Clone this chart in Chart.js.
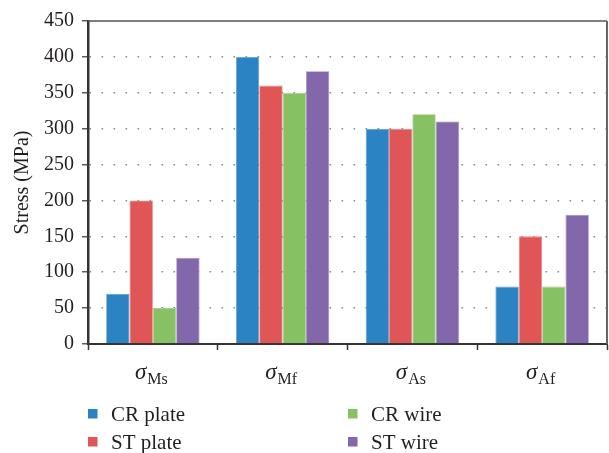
<!DOCTYPE html>
<html>
<head>
<meta charset="utf-8">
<script src="https://cdn.jsdelivr.net/npm/chart.js@4/dist/chart.umd.min.js"></script>
<style>
  html, body { margin: 0; padding: 0; background: #ffffff; }
  #wrap { position: relative; width: 609px; height: 453px; }
</style>
</head>
<body>
<div id="wrap"><canvas id="chart" width="609" height="453"></canvas></div>
<script>
// Transformation stresses by specimen type
const categories = ['Ms', 'Mf', 'As', 'Af'];
const seriesNames = ['CR plate', 'ST plate', 'CR wire', 'ST wire'];
const crPlate = [70, 400, 300, 80];
const stPlate = [200, 360, 300, 150];
const crWire = [50, 350, 320, 80];
const stWire = [120, 380, 310, 180];
const yTicks = [0, 50, 100, 150, 200, 250, 300, 350, 400, 450];

const fills = ['#2b83c3', '#e05556', '#86c163', '#8367ab'];
const edges = ['#5c9fd3', '#e98080', '#a3d08a', '#a38fc3'];
const serif = '"Liberation Serif", "DejaVu Serif", serif';
const ink = '#231f20';

const seriesValues = [crPlate, stPlate, crWire, stWire];

// Frame, subscripted category labels and the two-column key
const decorations = {
  id: 'decorations',
  afterDraw(chart) {
    const { ctx, chartArea: a } = chart;
    ctx.save();
    // top and right frame lines
    ctx.strokeStyle = '#555';
    ctx.lineWidth = 1.5;
    ctx.beginPath();
    ctx.moveTo(a.left, a.top);
    ctx.lineTo(a.right, a.top);
    ctx.stroke();
    ctx.strokeStyle = '#666';
    ctx.lineWidth = 2;
    ctx.beginPath();
    ctx.moveTo(a.right, a.top);
    ctx.lineTo(a.right, a.bottom);
    ctx.stroke();

    // category labels: italic sigma with upright subscript
    const xs = chart.scales.x;
    ctx.fillStyle = ink;
    ctx.textBaseline = 'alphabetic';
    ctx.textAlign = 'left';
    categories.forEach((sub, i) => {
      const cx = xs.getPixelForValue(i);
      ctx.font = 'italic 23px ' + serif;
      const wSig = ctx.measureText('σ').width;
      ctx.font = '16px ' + serif;
      const wSub = ctx.measureText(sub).width;
      const x0 = cx - (wSig + wSub) / 2 - 2;
      ctx.font = 'italic 23px ' + serif;
      ctx.fillText('σ', x0, 379);
      ctx.font = '16px ' + serif;
      ctx.fillText(sub, x0 + wSig + 1, 384);
    });

    // key, two columns: plates on the left, wires on the right
    const cols = [88, 348];
    const rows = [409, 437];
    ctx.font = '21px ' + serif;
    chart.data.datasets.forEach((ds, i) => {
      const c = (i === 0 || i === 1) ? 0 : 1;
      const r = (i === 0 || i === 2) ? 0 : 1;
      const x = cols[c];
      const y = rows[r];
      ctx.fillStyle = ds.backgroundColor;
      ctx.fillRect(x, y, 9.5, 9.5);
      ctx.fillStyle = ink;
      ctx.fillText(ds.label, x + 23, y + 12);
    });
    ctx.restore();
  }
};

new Chart(document.getElementById('chart'), {
  type: 'bar',
  data: {
    labels: categories,
    datasets: seriesValues.map((vals, i) => ({
      label: seriesNames[i],
      data: vals,
      backgroundColor: fills[i],
      borderColor: edges[i],
      borderWidth: 0.8,
      categoryPercentage: 0.72,
      barPercentage: 1.0
    }))
  },
  options: {
    responsive: false,
    animation: false,
    devicePixelRatio: 1,
    layout: { padding: { top: 21, right: 2, left: 0, bottom: 0 } },
    plugins: {
      legend: { display: false },
      tooltip: { enabled: false }
    },
    scales: {
      x: {
        afterFit(scale) { scale.height = 109; },
        ticks: { color: 'rgba(0,0,0,0)', font: { family: serif, size: 16 } },
        grid: {
          offset: true,
          drawOnChartArea: false,
          drawTicks: true,
          tickLength: 6,
          tickColor: '#333',
          tickWidth: 1.5,
          tickBorderDash: []
        },
        border: { display: true, color: '#333', width: 2 }
      },
      y: {
        min: 0,
        max: 450,
        afterFit(scale) { scale.width = 88; },
        afterBuildTicks(scale) { scale.ticks = yTicks.map(v => ({ value: v })); },
        ticks: {
          stepSize: 50,
          padding: 8,
          color: ink,
          font: { family: serif, size: 20 }
        },
        title: {
          display: true,
          text: 'Stress (MPa)',
          color: ink,
          font: { family: serif, size: 20 },
          padding: { top: 11, bottom: 0 }
        },
        grid: {
          color(ctx) {
            const v = ctx.tick ? ctx.tick.value : null;
            return (v === 0 || v === 450) ? 'rgba(0,0,0,0)' : '#8a8a8a';
          },
          lineWidth: 1.6,
          drawTicks: true,
          tickLength: 6,
          tickColor: '#333',
          tickWidth: 1.2,
          tickBorderDash: []
        },
        border: { display: true, color: '#333', width: 2.5, dash: [1.6, 10.4] }
      }
    }
  },
  plugins: [decorations]
});
</script>
</body>
</html>
